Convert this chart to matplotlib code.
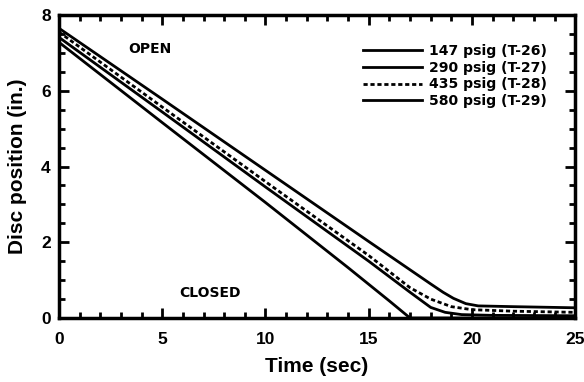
import matplotlib
matplotlib.use("Agg")
import matplotlib.pyplot as plt
from matplotlib.ticker import MultipleLocator

plt.rcParams['font.family'] = ['Liberation Sans', 'DejaVu Sans']
plt.rcParams['font.weight'] = 'bold'

# Disc position traces (time in s, position in inches)
t_147 = [0, 5, 10, 15, 18, 18.6, 19.1, 19.7, 20.3, 22, 25]
x_147 = [7.65, 5.78, 3.9, 2.02, 0.9, 0.68, 0.52, 0.38, 0.32, 0.30, 0.27]

t_290 = [0, 5, 10, 15, 17, 18, 18.7, 19.5, 21, 25]
x_290 = [7.41, 5.44, 3.46, 1.5, 0.68, 0.28, 0.15, 0.09, 0.07, 0.06]

t_435 = [0, 5, 10, 15, 17, 18, 19, 20, 22, 25]
x_435 = [7.55, 5.57, 3.6, 1.65, 0.8, 0.5, 0.3, 0.22, 0.18, 0.15]

t_580 = [0, 5, 10, 14, 16, 16.6, 17.0, 25]
x_580 = [7.28, 5.16, 3.05, 1.33, 0.45, 0.18, 0.0, 0.0]

labels = ["147 psig (T-26)", "290 psig (T-27)", "435 psig (T-28)", "580 psig (T-29)"]

fig = plt.figure(figsize=(5.84, 3.82), dpi=100)
ax = fig.add_axes([0.101, 0.1675, 0.884, 0.7932])

lw = 2.0
ax.plot(t_147, x_147, color='black', lw=lw, label=labels[0])
ax.plot(t_290, x_290, color='black', lw=lw, label=labels[1])
ax.plot(t_435, x_435, color='black', lw=lw, dashes=(1.5, 1.0), label=labels[2])
ax.plot(t_580, x_580, color='black', lw=lw, label=labels[3])

ax.set_xlim(0, 25)
ax.set_ylim(0, 8)
ax.xaxis.set_major_locator(MultipleLocator(5))
ax.xaxis.set_minor_locator(MultipleLocator(1))
ax.yaxis.set_major_locator(MultipleLocator(2))
ax.yaxis.set_minor_locator(MultipleLocator(0.5))
ax.tick_params(which='both', direction='in', top=True, right=True, width=2, color='black')
ax.tick_params(which='major', length=7, labelsize=12.5)
ax.tick_params(axis='x', which='major', pad=10)
ax.tick_params(axis='y', which='major', pad=6)
ax.tick_params(which='minor', length=4)
for lab in ax.get_xticklabels() + ax.get_yticklabels():
    lab.set_fontweight('bold')
for sp in ax.spines.values():
    sp.set_linewidth(2.5)

ax.set_xlabel("Time (sec)", fontsize=15, fontweight='bold', labelpad=7)
ax.set_ylabel("Disc position (in.)", fontsize=15, fontweight='bold', labelpad=10)

note_font = ['DejaVu Sans']
ax.text(4.4, 7.1, "OPEN", fontsize=10, fontweight='bold', ha='center', va='center',
        family=note_font)
ax.text(7.3, 0.65, "CLOSED", fontsize=10, fontweight='bold', ha='center', va='center',
        family=note_font)

leg = ax.legend(loc='upper left', bbox_to_anchor=(0.589, 0.903), frameon=False,
                prop={'family': note_font, 'weight': 'bold', 'size': 10.1},
                handlelength=4.2, handletextpad=0.5, labelspacing=0.18,
                borderaxespad=0, borderpad=0)

fig.savefig("out.png", dpi=100)
